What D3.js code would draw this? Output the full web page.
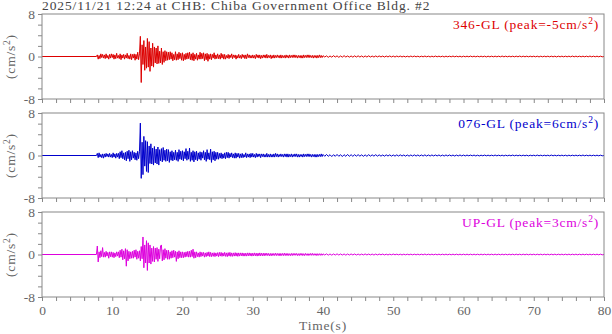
<!DOCTYPE html>
<html>
<head>
<meta charset="utf-8">
<script src="https://cdn.jsdelivr.net/npm/d3@7/dist/d3.min.js"></script>
<style>
  body { margin: 0; background: #fff; }
  svg { display: block; font-family: "Liberation Serif", "DejaVu Serif", serif; }
</style>
</head>
<body>
<div id="chart"></div>
<script>
// Data
var title = "2025/11/21 12:24 at CHB: Chiba Government Office Bldg. #2";
var channels = ["346-GL", "076-GL", "UP-GL"];
var peaks = [-5, 6, 3];
var colors = ["#dd0000", "#0000cc", "#dd00dd"];
var xTicks = [0, 10, 20, 30, 40, 50, 60, 70, 80];
var yTicks = [-8, 0, 8];

// record is flat (0) until the onset; strong part sampled every 0.125 s
// from 7.75 s, coda every 0.25 s from 40 s (cm/s^2)
var strongStart = 7.75, strongInterval = 0.125;
var codaStart = 40, codaInterval = 0.25;

var ns346Strong = [
  0, 0.3,
  -0.5,0.2,-0.4,0.5,-0.2,0.4,-0.3,0.3,
  -0.4,0.5,-0.3,0.2,-0.5,0.4,-0.3,0.5,
  -0.2,0.4,-0.5,0.3,-0.4,0.6,-0.3,0.2,
  -0.4,0.5,-0.6,0.3,-0.3,0.4,-0.5,0.3,
  -0.3,0.6,-0.4,0.2,-0.5,0.5,-0.6,0.4,
  -0.3,0.5,-0.7,0.4,-0.5,0.8,-0.6,0.5,
  3.8,-4.9,2.2,-1.5,3.0,-2.6,1.8,-2.2,
  3.4,-2.0,2.8,-2.8,1.6,-1.8,2.5,-2.0,
  1.8,-1.2,1.6,-1.4,2.0,-1.3,1.0,-1.2,
  1.6,-1.5,0.9,-1.1,1.1,-0.8,0.9,-0.7,
  0.8,-0.6,0.9,-0.5,0.7,-0.8,0.4,-0.6,
  0.9,-0.7,0.5,-0.6,0.8,-0.4,0.6,-0.7,
  0.7,-0.8,0.4,-0.6,0.6,-0.5,0.7,-0.4,
  0.8,-0.6,0.5,-0.7,0.7,-0.8,0.4,-0.5,
  0.6,-0.7,0.3,-0.5,0.8,-0.5,0.6,-0.4,
  0.7,-0.8,0.5,-0.6,0.6,-0.9,0.4,-0.5,
  0.5,-0.6,0.4,-0.3,0.7,-0.5,0.3,-0.4,
  0.5,-0.4,0.3,-0.5,0.6,-0.3,0.4,-0.5,
  0.4,-0.5,0.2,-0.3,0.4,-0.4,0.3,-0.2,
  0.5,-0.4,0.3,-0.2,0.3,-0.5,0.2,-0.3,
  0.4,-0.3,0.2,-0.4,0.4,-0.2,0.3,-0.4,
  0.3,-0.4,0.5,-0.2,0.3,-0.3,0.2,-0.3,
  0.3,-0.3,0.2,-0.4,0.4,-0.2,0.3,-0.3,
  0.3,-0.4,0.2,-0.3,0.3,-0.2,0.3,-0.3,
  0.4,-0.3,0.2,-0.2,0.3,-0.4,0.2,-0.3,
  0.3,-0.3,0.2,-0.2,0.3,-0.2,0.2,-0.3,
  0.3,-0.3,0.2,-0.2,0.2,-0.3,0.3,-0.2,
  0.2,-0.3,0.3,-0.2,0.2,-0.2,0.3,-0.2,
  0.3,-0.2,0.2,-0.3,0.2,-0.2,0.2,-0.3,
  0.2,-0.3,0.3,-0.2,0.2,-0.2,0.3,-0.2,
  0.3,-0.2,0.2,-0.2,0.2,-0.3,0.2,-0.2,
  0.2,-0.3,0.2,-0.2,0.3,-0.2,0.2,-0.2
];
var ns346Coda = [
  0.15,-0.1,0.12,-0.15, 0.1,-0.12,0.15,-0.1, 0.12,-0.15,0.1,-0.12, 0.15,-0.1,0.1,-0.12,
  0.1,-0.12,0.12,-0.1, 0.12,-0.1,0.1,-0.12, 0.1,-0.1,0.12,-0.1, 0.08,-0.1,0.1,-0.08,
  0.1,-0.08,0.08,-0.1, 0.08,-0.08,0.1,-0.08, 0.08,-0.1,0.08,-0.06, 0.08,-0.08,0.06,-0.08,
  0.06,-0.08,0.08,-0.06, 0.08,-0.06,0.06,-0.08, 0.06,-0.06,0.08,-0.06, 0.06,-0.08,0.06,-0.06,
  0.08,-0.06,0.06,-0.06, 0.06,-0.08,0.06,-0.06, 0.06,-0.06,0.08,-0.06, 0.06,-0.06,0.06,-0.08,
  0.06,-0.06,0.06,-0.06, 0.08,-0.06,0.06,-0.06, 0.06,-0.06,0.06,-0.06, 0.06,-0.08,0.06,-0.06,
  0.06,-0.06,0.06,-0.06, 0.06,-0.06,0.08,-0.06, 0.06,-0.06,0.06,-0.06, 0.06,-0.06,0.06,-0.06,
  0.08,-0.06,0.06,-0.06, 0.06,-0.06,0.06,-0.06, 0.06,-0.06,0.06,-0.08, 0.06,-0.06,0.06,-0.06,
  0.06,-0.06,0.06,-0.06, 0.06,-0.08,0.06,-0.06, 0.06,-0.06,0.06,-0.06, 0.06,-0.06,0.08,-0.06,
  0.06,-0.06,0.06,-0.06, 0.06,-0.06,0.06,-0.06, 0.08,-0.06,0.06,-0.06, 0.06,-0.06,0.06,-0.06,
  0
];

var ew076Strong = [
  0, 0.4,
  -0.4,0.5,-0.3,0.2,-0.4,0.3,-0.5,0.3,
  -0.3,0.4,-0.2,0.3,-0.3,0.4,-0.3,0.2,
  -0.4,0.5,-0.3,0.3,-0.5,0.4,-0.3,0.4,
  -0.6,0.7,-0.4,0.9,-0.6,0.5,-0.8,0.6,
  -1.0,0.8,-0.6,1.0,-1.1,0.7,-0.8,0.9,
  -0.5,0.6,-0.8,0.5,-0.9,0.8,-0.6,0.7,
  6.1,-4.3,2.5,-3.6,3.6,-2.0,2.8,-3.0,
  2.6,-3.2,1.8,-1.5,2.2,-1.6,1.4,-1.8,
  1.7,-1.4,1.2,-1.6,1.6,-1.8,1.1,-1.0,
  1.3,-1.2,1.5,-0.9,1.0,-1.1,1.2,-1.0,
  1.1,-1.3,0.7,-0.9,0.9,-1.0,0.6,-0.8,
  1.0,-0.9,0.6,-1.1,1.1,-0.7,0.8,-0.8,
  0.9,-1.0,0.7,-0.6,1.3,-0.9,0.8,-0.7,
  1.4,-1.1,0.6,-0.9,0.9,-1.2,0.7,-0.8,
  0.8,-1.0,0.5,-0.7,0.7,-0.9,0.6,-0.5,
  0.9,-0.8,0.6,-1.1,1.1,-0.7,0.5,-0.8,
  1.2,-1.3,0.7,-0.8,0.8,-1.0,0.6,-0.7,
  0.6,-0.7,0.4,-0.5,0.5,-0.6,0.3,-0.5,
  0.5,-0.6,0.6,-0.4,0.6,-0.5,0.4,-0.3,
  0.5,-0.4,0.3,-0.5,0.5,-0.5,0.4,-0.3,
  0.4,-0.5,0.3,-0.4,0.4,-0.4,0.2,-0.3,
  0.5,-0.4,0.3,-0.3,0.3,-0.4,0.4,-0.3,
  0.4,-0.3,0.2,-0.4,0.4,-0.3,0.3,-0.2,
  0.3,-0.4,0.3,-0.2,0.3,-0.3,0.2,-0.3,
  0.4,-0.3,0.2,-0.3,0.3,-0.3,0.2,-0.3,
  0.3,-0.3,0.4,-0.2,0.3,-0.3,0.2,-0.2,
  0.3,-0.2,0.2,-0.3,0.3,-0.2,0.3,-0.3,
  0.3,-0.3,0.2,-0.2,0.3,-0.3,0.2,-0.2,
  0.3,-0.2,0.3,-0.3,0.2,-0.3,0.2,-0.2,
  0.2,-0.3,0.3,-0.2,0.2,-0.2,0.3,-0.2,
  0.3,-0.2,0.2,-0.3,0.2,-0.2,0.2,-0.3,
  0.2,-0.3,0.2,-0.2,0.2,-0.2,0.3,-0.2
];
var ew076Coda = [
  0.2,-0.15,0.2,-0.15, 0.15,-0.2,0.15,-0.15, 0.2,-0.15,0.15,-0.2, 0.15,-0.15,0.2,-0.15,
  0.15,-0.15,0.15,-0.12, 0.15,-0.12,0.12,-0.15, 0.12,-0.15,0.15,-0.12, 0.12,-0.12,0.15,-0.12,
  0.12,-0.12,0.1,-0.12, 0.12,-0.1,0.12,-0.12, 0.1,-0.12,0.12,-0.1, 0.12,-0.1,0.1,-0.12,
  0.1,-0.12,0.1,-0.1, 0.12,-0.1,0.1,-0.1, 0.1,-0.1,0.12,-0.1, 0.1,-0.1,0.1,-0.08,
  0.1,-0.08,0.1,-0.1, 0.08,-0.1,0.1,-0.08, 0.1,-0.08,0.08,-0.1, 0.08,-0.08,0.1,-0.08,
  0.08,-0.08,0.08,-0.06, 0.08,-0.06,0.08,-0.08, 0.06,-0.08,0.06,-0.06, 0.08,-0.06,0.06,-0.06,
  0.06,-0.06,0.08,-0.06, 0.06,-0.06,0.06,-0.08, 0.06,-0.06,0.06,-0.06, 0.08,-0.06,0.06,-0.06,
  0.06,-0.06,0.06,-0.06, 0.06,-0.08,0.06,-0.06, 0.06,-0.06,0.08,-0.06, 0.06,-0.06,0.06,-0.06,
  0.06,-0.06,0.08,-0.06, 0.06,-0.06,0.06,-0.06, 0.06,-0.06,0.06,-0.08, 0.06,-0.06,0.06,-0.06,
  0.06,-0.06,0.06,-0.06, 0.08,-0.06,0.06,-0.06, 0.06,-0.06,0.06,-0.06, 0.06,-0.06,0.06,-0.06,
  0
];

var upStrong = [
  0, 1.6,
  -1.4,0.5,-0.6,0.7,-0.4,1.3,-0.5,0.4,
  -0.5,0.6,-0.3,0.4,-0.7,0.5,-0.4,0.5,
  -0.5,0.4,-0.6,0.3,-0.4,0.5,-0.3,0.5,
  -0.6,0.8,-0.5,1.0,-1.0,0.7,-0.8,1.1,
  -2.2,0.9,-1.2,0.6,-0.8,0.5,-0.7,0.6,
  -0.7,0.8,-0.5,0.9,-0.9,0.6,-0.7,0.7,
  -1.2,1.5,-0.8,3.3,-2.5,1.8,-1.6,2.6,
  -3.0,2.2,-1.6,1.8,-1.8,1.2,-1.3,1.5,
  -1.4,1.2,-0.9,1.3,-1.3,1.0,-0.8,1.6,
  1.8,-1.2,0.9,-1.0,1.1,-0.7,0.8,-0.9,
  0.8,-0.9,0.5,-0.7,0.7,-0.6,0.8,-0.5,
  0.6,-1.3,0.5,-0.8,0.7,-0.6,0.5,-0.6,
  0.5,-0.6,0.4,-0.5,0.5,-0.4,0.6,-0.5,
  0.6,-0.5,0.8,-0.4,1.0,-0.7,0.5,-0.6,
  0.5,-0.4,0.3,-0.5,0.5,-0.4,0.4,-0.3,
  0.4,-0.5,0.3,-0.4,0.4,-0.3,0.5,-0.4,
  0.4,-0.4,0.3,-0.35,0.35,-0.4,0.3,-0.3,
  0.35,-0.4,0.4,-0.3,0.4,-0.35,0.3,-0.3,
  0.4,-0.35,0.3,-0.4,0.35,-0.3,0.4,-0.35,
  0.3,-0.35,0.3,-0.3,0.35,-0.3,0.3,-0.35,
  0.3,-0.3,0.3,-0.25,0.3,-0.3,0.25,-0.3,
  0.25,-0.3,0.3,-0.25,0.3,-0.25,0.25,-0.3,
  0.25,-0.25,0.3,-0.25,0.25,-0.3,0.25,-0.25,
  0.3,-0.25,0.25,-0.25,0.25,-0.25,0.25,-0.2,
  0.25,-0.2,0.2,-0.25,0.2,-0.25,0.2,-0.2,
  0.2,-0.2,0.25,-0.2,0.2,-0.2,0.2,-0.25,
  0.2,-0.2,0.2,-0.2,0.25,-0.2,0.2,-0.2,
  0.2,-0.2,0.15,-0.2,0.2,-0.2,0.2,-0.15,
  0.2,-0.15,0.2,-0.2,0.15,-0.2,0.2,-0.15,
  0.2,-0.2,0.15,-0.2,0.2,-0.15,0.15,-0.2,
  0.15,-0.15,0.2,-0.15,0.2,-0.15,0.15,-0.15,
  0.15,-0.2,0.15,-0.15,0.15,-0.15,0.15,-0.15
];
var upCoda = [
  0.12,-0.1,0.12,-0.12, 0.1,-0.12,0.1,-0.1, 0.12,-0.1,0.1,-0.1, 0.1,-0.12,0.1,-0.1,
  0.1,-0.08,0.1,-0.1, 0.08,-0.1,0.08,-0.08, 0.1,-0.08,0.08,-0.08, 0.08,-0.1,0.08,-0.08,
  0.08,-0.06,0.08,-0.08, 0.06,-0.08,0.06,-0.06, 0.08,-0.06,0.06,-0.06, 0.06,-0.08,0.06,-0.06,
  0.06,-0.06,0.06,-0.06, 0.06,-0.06,0.06,-0.06, 0.06,-0.06,0.08,-0.06, 0.06,-0.06,0.06,-0.06,
  0.06,-0.06,0.06,-0.06, 0.06,-0.06,0.06,-0.06, 0.06,-0.06,0.06,-0.06, 0.06,-0.06,0.06,-0.06,
  0.06,-0.06,0.06,-0.06, 0.06,-0.06,0.06,-0.06, 0.06,-0.06,0.06,-0.06, 0.06,-0.06,0.06,-0.06,
  0.06,-0.06,0.06,-0.06, 0.06,-0.06,0.06,-0.06, 0.06,-0.06,0.06,-0.06, 0.06,-0.06,0.06,-0.06,
  0.06,-0.06,0.06,-0.06, 0.06,-0.06,0.06,-0.06, 0.06,-0.06,0.06,-0.06, 0.06,-0.06,0.06,-0.06,
  0.06,-0.06,0.06,-0.06, 0.06,-0.06,0.06,-0.06, 0.06,-0.06,0.06,-0.06, 0.06,-0.06,0.06,-0.06,
  0.06,-0.06,0.06,-0.06, 0.06,-0.06,0.06,-0.06, 0.06,-0.06,0.06,-0.06, 0.06,-0.06,0.06,-0.06,
  0
];

var strongParts = [ns346Strong, ew076Strong, upStrong];
var codaParts = [ns346Coda, ew076Coda, upCoda];

// Layout
var width = 612, height = 334;
var left = 42, right = 604;
var panelTops = [14, 113, 212];
var panelHeight = 85;
var axisColor = "#888";
var textColor = "#666";

var svg = d3.select("#chart").append("svg")
  .attr("width", width)
  .attr("height", height);

var x = d3.scaleLinear().domain([0, 80]).range([left, right]);

svg.append("text")
  .attr("x", left)
  .attr("y", 10)
  .style("font-size", "13.5px")
  .style("letter-spacing", "0.9px")
  .attr("fill", "#444")
  .text(title);

channels.forEach(function(name, p) {
  var panelTop = panelTops[p];
  var y = d3.scaleLinear().domain([-8, 8]).range([panelTop + panelHeight, panelTop]);
  var g = svg.append("g");

  // bottom ticks every 2 s, labels only on the last panel
  var xAxis = d3.axisBottom(x)
    .tickValues(d3.range(0, 81, 2))
    .tickSize(4)
    .tickSizeOuter(0)
    .tickFormat(function(d) { return (p === 2 && xTicks.indexOf(d) >= 0) ? d : ""; });
  var gx = g.append("g")
    .attr("transform", "translate(0," + (panelTop + panelHeight) + ")")
    .call(xAxis);
  gx.select(".domain").remove();
  gx.selectAll("line").attr("stroke", axisColor);
  gx.selectAll("text")
    .attr("fill", textColor)
    .attr("y", 8)
    .style("font-size", "13.5px")
    .style("font-family", "Liberation Serif, serif");

  var yAxis = d3.axisLeft(y)
    .tickValues(d3.range(-8, 9, 2))
    .tickSize(4)
    .tickSizeOuter(0)
    .tickFormat(function(d) { return yTicks.indexOf(d) >= 0 ? d : ""; });
  var gy = g.append("g")
    .attr("transform", "translate(" + left + ",0)")
    .call(yAxis);
  gy.select(".domain").remove();
  gy.selectAll("line").attr("stroke", axisColor);
  gy.selectAll("text")
    .attr("fill", textColor)
    .attr("x", -7)
    .style("font-size", "13.5px")
    .style("font-family", "Liberation Serif, serif");

  // the trace: flat before onset, then strong part, then coda
  var points = [[0, 0]]
    .concat(strongParts[p].map(function(v, i) { return [strongStart + i * strongInterval, v]; }))
    .concat(codaParts[p].map(function(v, i) { return [codaStart + i * codaInterval, v]; }));

  var line = d3.line()
    .x(function(d) { return x(d[0]); })
    .y(function(d) { return y(d[1]); });
  g.append("path")
    .datum(points)
    .attr("d", line)
    .attr("fill", "none")
    .attr("stroke", colors[p])
    .attr("stroke-width", 1);

  // frame
  g.append("rect")
    .attr("x", left)
    .attr("y", panelTop)
    .attr("width", right - left)
    .attr("height", panelHeight)
    .attr("fill", "none")
    .attr("stroke", axisColor)
    .attr("stroke-width", 1);

  // unit label
  var ul = g.append("text")
    .attr("transform", "translate(15," + y(0) + ") rotate(-90)")
    .attr("text-anchor", "middle")
    .attr("fill", textColor)
    .style("font-size", "13.5px")
    .style("letter-spacing", "0.8px");
  ul.append("tspan").text("(cm/s");
  ul.append("tspan").attr("dy", -5).style("font-size", "9.5px").text("2");
  ul.append("tspan").attr("dy", 5).text(")");

  // channel legend
  var lg = g.append("text")
    .attr("x", right - 5)
    .attr("y", panelTop + 14.5)
    .attr("text-anchor", "end")
    .attr("fill", colors[p])
    .style("font-size", "13.5px")
    .style("letter-spacing", "0.8px");
  lg.append("tspan").text(name + " (peak=" + peaks[p] + "cm/s");
  lg.append("tspan").attr("dy", -5).style("font-size", "9.5px").text("2");
  lg.append("tspan").attr("dy", 5).text(")");
});

svg.append("text")
  .attr("x", (left + right) / 2)
  .attr("y", 330)
  .attr("text-anchor", "middle")
  .attr("fill", textColor)
  .style("font-size", "13.5px")
  .style("letter-spacing", "0.8px")
  .text("Time(s)");
</script>
</body>
</html>
